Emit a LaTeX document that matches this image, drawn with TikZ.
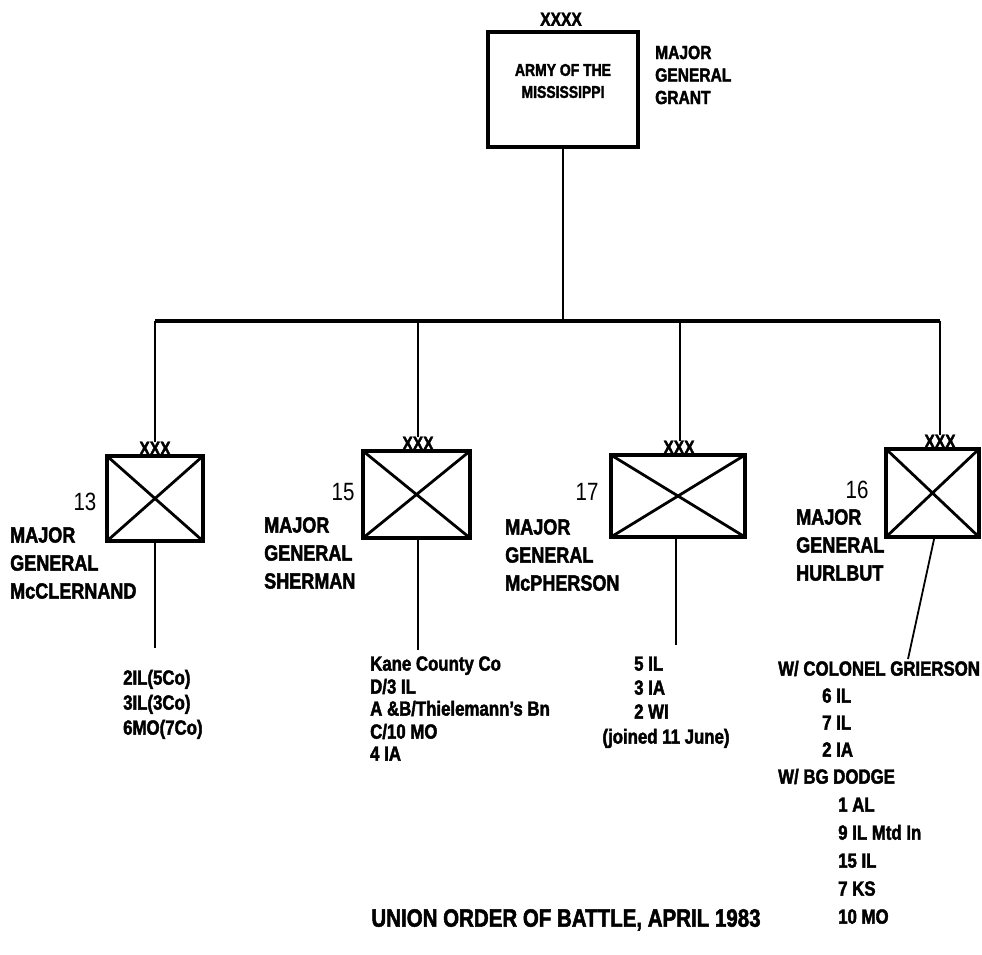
\documentclass[tikz,border=0pt]{standalone}
\usepackage{fontspec}
\setmainfont{Liberation Sans}[FakeStretch=0.82, BoldFeatures={FakeBold=2}]
\begin{document}
\begin{tikzpicture}[x=1pt,y=-1pt,
  box/.style={draw, line width=3.8pt, outer sep=0pt, inner sep=0pt},
  xline/.style={line width=2.8pt},
  conn/.style={line width=1.8pt},
  bar/.style={line width=4.2pt},
  echelon/.style={font=\bfseries\fontsize{19}{19}\selectfont, inner sep=0pt},
  num/.style={font=\fontsize{25}{25}\selectfont, inner sep=0pt},
  cmd/.style={font=\bfseries\fontsize{22}{28}\selectfont, align=left, inner sep=0pt, anchor=west},
  lst/.style={font=\bfseries\fontsize{20.5}{20.5}\selectfont, inner sep=0pt, anchor=mid west}
]
\useasboundingbox (0,0) rectangle (982,955);

% Army
\node[box, line width=3.2pt, minimum width=150pt, minimum height=115pt] (army) at (563,89.5) {};
\node[font=\bfseries\fontsize{17}{22}\selectfont, align=center, inner sep=0pt] (armytxt) at (563,81) {ARMY OF THE\\MISSISSIPPI};
\node[echelon, anchor=south] (x4) at (561,26) {XXXX};
\node[cmd, font=\bfseries\fontsize{19}{22.5}\selectfont] (grant) at (655,75) {MAJOR\\GENERAL\\GRANT};

% bar
\coordinate (btop) at (563,321);
\coordinate (b13) at (155,321);
\coordinate (b15) at (418,321);
\coordinate (b17) at (680,321);
\coordinate (b16) at (940,321);
\draw[conn] (army.south) -- (btop);
\draw[bar] (b13) -- (b16);

% Corps boxes
\node[box, minimum width=96pt, minimum height=85pt] (c13) at (155,498.5) {};
\node[box, minimum width=107pt, minimum height=87pt] (c15) at (416.5,494.5) {};
\node[box, minimum width=134pt, minimum height=82pt] (c17) at (678,496) {};
\node[box, minimum width=93pt, minimum height=88pt] (c16) at (932.5,493) {};
\foreach \c in {c13,c15,c17,c16}{
  \draw[xline] (\c.north west) -- (\c.south east) (\c.south west) -- (\c.north east);
}

\node[echelon, anchor=south] (x13) at (155,455) {XXX};
\node[echelon, anchor=south] (x15) at (418,450) {XXX};
\node[echelon, anchor=south] (x17) at (679,454) {XXX};
\node[echelon, anchor=south] (x16) at (940,448) {XXX};

\draw[conn] (b13) -- (b13 |- x13.north);
\draw[conn] (b15) -- (b15 |- x15.north);
\draw[conn] (b17) -- (b17 |- x17.north);
\draw[conn] (b16) -- (b16 |- x16.north);

% Numbers
\node[num] (n13) at (85,502) {13};
\node[num] (n15) at (343,492) {15};
\node[num] (n17) at (587,492) {17};
\node[num] (n16) at (857,490) {16};

% Commanders
\node[cmd] (m13) at (10,563) {MAJOR\\GENERAL\\McCLERNAND};
\node[cmd] (m15) at (264,553) {MAJOR\\GENERAL\\SHERMAN};
\node[cmd] (m17) at (505,555) {MAJOR\\GENERAL\\McPHERSON};
\node[cmd] (m16) at (796,545) {MAJOR\\GENERAL\\HURLBUT};

% Lower connectors
\coordinate (e13) at (155,648);
\coordinate (e15) at (418,650);
\coordinate (e17) at (676,645);
\coordinate (e16) at (908,659);
\draw[conn] (c13.south) -- (e13);
\draw[conn] (c15.south -| e15) -- (e15);
\draw[conn] (c17.south -| e17) -- (e17);
\draw[conn] (c16.south) ++(2,0) -- (e16);

% 13 list
\node[lst] (l13a) at (123,682) {2IL(5Co)};
\node[lst] (l13b) at (123,707) {3IL(3Co)};
\node[lst] (l13c) at (123,732) {6MO(7Co)};

% 15 list
\node[lst] (l15a) at (370,668) {Kane County Co};
\node[lst] (l15b) at (370,691) {D/3 IL};
\node[lst] (l15c) at (370,713) {A \&B/Thielemann's Bn};
\node[lst] (l15d) at (370,736) {C/10 MO};
\node[lst] (l15e) at (370,758) {4 IA};

% 17 list
\node[lst] (l17a) at (634,668) {5 IL};
\node[lst] (l17b) at (634,692) {3 IA};
\node[lst] (l17c) at (634,716) {2 WI};
\node[lst, anchor=mid] (l17d) at (666,741) {(joined 11 June)};

% 16 list
\node[lst] (l16a) at (778,673) {W/ COLONEL GRIERSON};
\node[lst] (l16b) at (822,700) {6 IL};
\node[lst] (l16c) at (822,727) {7 IL};
\node[lst] (l16d) at (822,754) {2 IA};
\node[lst] (l16e) at (778,781) {W/ BG DODGE};
\node[lst] (l16f) at (838,809) {1 AL};
\node[lst] (l16g) at (838,837) {9 IL Mtd In};
\node[lst] (l16h) at (838,865) {15 IL};
\node[lst] (l16i) at (838,893) {7 KS};
\node[lst] (l16j) at (838,921) {10 MO};

% Title
\node[font=\bfseries\fontsize{25}{25}\selectfont, inner sep=0pt, anchor=mid] (title) at (566,924) {UNION ORDER OF BATTLE, APRIL 1983};
\end{tikzpicture}
\end{document}
